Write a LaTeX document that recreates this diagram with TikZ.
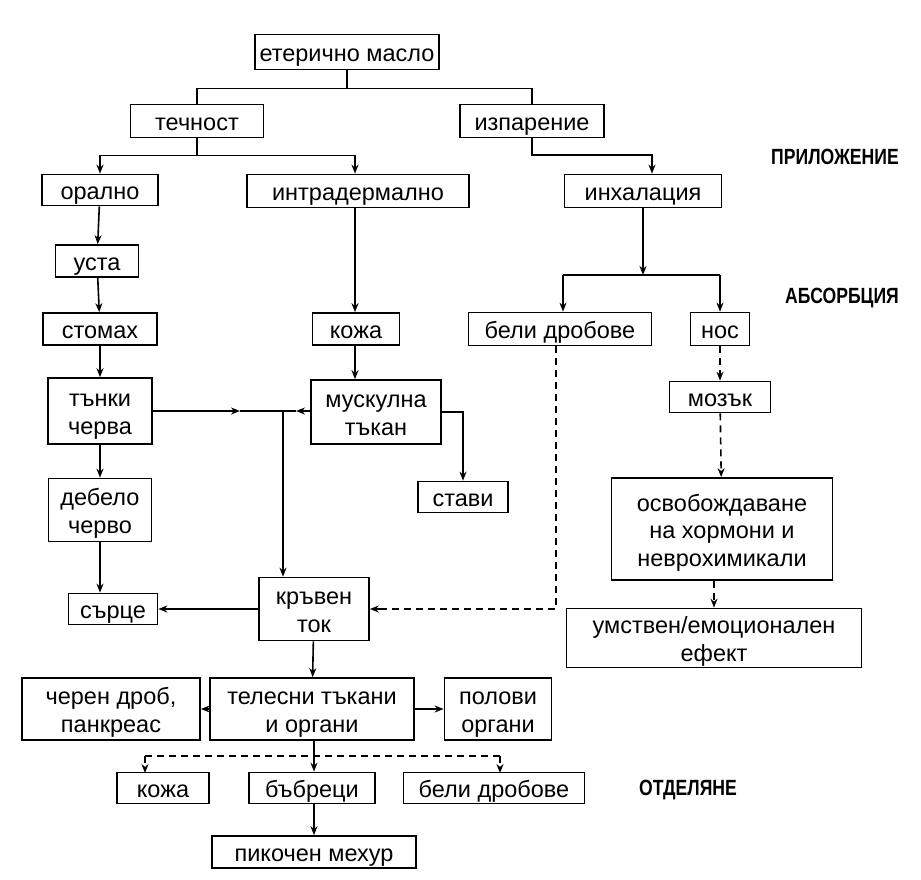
\documentclass[tikz,border=0pt]{standalone}
\usepackage{fontspec}
\setmainfont{Liberation Sans}
\usetikzlibrary{arrows.meta}
\begin{document}
\begin{tikzpicture}[x=1pt,y=-1pt,
  box/.style={draw,line width=1.7pt,inner sep=0pt,align=center,font=\fontsize{23.5}{27.5}\selectfont},
  lbl/.style={font=\fontsize{22}{26}\selectfont\bfseries\addfontfeatures{FakeStretch=0.8}},
  ln/.style={line width=1.6pt},
  ar/.style={ln,-{Stealth[length=9pt,width=7pt]}},
  da/.style={ar,dash pattern=on 7pt off 5pt}]
\fill[white] (0,0) rectangle (921,879);
\useasboundingbox (0,0) rectangle (921,879);
\newcommand{\bx}[6]{\node[box,minimum width=#4pt,minimum height=#5pt] (#1) at (#2,#3) {\rule{0pt}{25pt}#6\rule[-6pt]{0pt}{6pt}};}
\bx{em}{347}{52}{184}{35}{етерично масло}
\bx{tech}{197}{121}{133}{33}{течност}
\bx{izp}{532}{121}{144}{33}{изпарение}
\bx{oral}{100}{190}{116}{31}{орално}
\bx{intra}{358}{191}{222}{33}{интрадермално}
\bx{inh}{643}{191}{157}{33}{инхалация}
\bx{usta}{97}{261}{83}{32}{уста}
\bx{stom}{100}{329}{114}{32}{стомах}
\bx{koja}{356}{329}{87}{32}{кожа}
\bx{beli}{560}{329}{183}{33}{бели дробове}
\bx{nos}{720}{329}{59}{33}{нос}
\bx{tanki}{100}{411}{104}{66}{тънки\\черва}
\bx{musk}{376}{412}{130}{64}{мускулна\\тъкан}
\bx{mozak}{720}{397}{101}{31}{мозък}
\bx{stavi}{463}{497}{90}{29}{стави}
\bx{debelo}{100}{510}{103}{63}{дебело\\черво}
\bx{osv}{722}{529}{221}{102}{освобождаване\\на хормони и\\неврохимикали}
\bx{sarce}{113}{609}{89}{30}{сърце}
\bx{krav}{314}{609}{110}{63}{кръвен\\ток}
\bx{umst}{714}{638}{295}{59}{умствен/емоционален\\ефект}
\bx{cheren}{111}{709}{178}{62}{черен дроб,\\панкреас}
\bx{tel}{312}{709}{204}{62}{телесни тъкани\\и органи}
\bx{polovi}{498}{709}{107}{62}{полови\\органи}
\bx{koja2}{163}{788}{92}{31}{кожа}
\bx{babr}{312}{788}{126}{31}{бъбреци}
\bx{beli2}{494}{788}{181}{31}{бели дробове}
\bx{pik}{314}{852}{204}{32}{пикочен мехур}
\node[lbl] (l1) at (835,157) {ПРИЛОЖЕНИЕ};
\node[lbl] (l2) at (842,298) {АБСОРБЦИЯ};
\node[lbl] (l3) at (688,790) {ОТДЕЛЯНЕ};
% top
\draw[ln] (em.south) -- ++(0,18) coordinate (t1);
\draw[ln] (tech.north) |- (t1) -| (izp.north);
\draw[ln] (tech.south) -- ++(0,17) coordinate (t2);
\draw[ar] (t2) -| (oral.north);
\draw[ar] (t2) -| (intra.north -| 355,0);
\draw[ar] (izp.south) |- (652,155) -- (inh.north -| 652,0);
% left column
\draw[ar] (oral) -- (usta);
\draw[ar] (usta) -- (stom);
\draw[ar] (stom) -- (tanki);
\draw[ar] (tanki) -- (debelo);
\draw[ar] (debelo.south) -- (debelo.south |- sarce.north);
% middle
\draw[ar] (intra.south -| 355,0) -- (koja.north -| 355,0);
\draw[ar] (koja.south -| 355,0) -- (musk.north -| 355,0);
\coordinate (j) at (283,411);
\draw[ar] (tanki.east) -- (240,411);
\draw[ln] (240,411) -- (j);
\draw[ar] (musk.west |- j) -- (296,411);
\draw[ln] (296,411) -- (j);
\draw[ar] (j) -- (krav.north -| j);
\draw[ar] (musk.east) -| (stavi.north);
\draw[ar] (krav.west) -- (sarce.east);
\draw[ar] (krav) -- (tel);
\draw[ar] (tel) -- (cheren);
\draw[ar] (tel) -- (polovi);
\draw[ar] (tel.south -| 314,0) -- (babr.north -| 314,0);
\draw[ar] (babr.south -| 314,0) -- (pik.north -| 314,0);
\draw[da] (145,756) -- (145,773);
\draw[da] (500,756) -- (500,773);
\draw[ln,dash pattern=on 7pt off 5pt] (145,756) -- (500,756);
% right
\draw[ar] (inh.south) -- (643,275) coordinate (r1);
\draw[ln] (r1) -- (563,275) coordinate (r2);
\draw[ln] (r1) -- (720,275) coordinate (r3);
\draw[ar] (r2) -- (beli.north -| r2);
\draw[ar] (r3) -- (nos.north);
\draw[da] (nos) -- (mozak);
\draw[da] (mozak) -- (osv);
\draw[da] (osv.south -| 714,0) -- (umst.north);
\draw[ln,dash pattern=on 7pt off 5pt] (beli.south -| 556,0) |- (372,609);
\draw[ar] (380,609) -- (krav.east);
\end{tikzpicture}
\end{document}
